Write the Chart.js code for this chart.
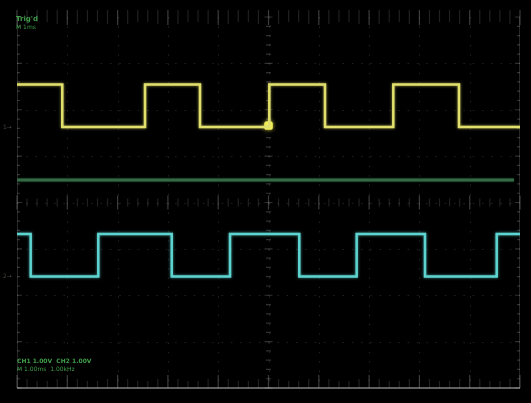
<!DOCTYPE html>
<html>
<head>
<meta charset="utf-8">
<script src="https://cdn.jsdelivr.net/npm/chart.js@4.4.0/dist/chart.umd.min.js"></script>
<style>
  html, body { margin: 0; padding: 0; background: #000; }
  canvas { display: block; }
</style>
</head>
<body>
<canvas id="scope" width="531" height="403"></canvas>
<script>
// Time axis in divisions (10 across), vertical axis in divisions (8 high)
const ch1Times  = [0, 0.90, 2.545, 3.638, 5.016, 6.123, 7.481, 8.787, 10];
const ch1Levels = [6.545, 5.628, 6.545, 5.628, 6.545, 5.628, 6.545, 5.628, 5.628];

const ch2Times  = [0, 0.272, 1.616, 3.076, 4.235, 5.612, 6.753, 8.111, 9.537, 10];
const ch2Levels = [3.321, 2.404, 3.321, 2.404, 3.321, 2.404, 3.321, 2.404, 3.321, 3.321];

const refTimes  = [0, 9.88];
const refLevels = [4.485, 4.485];

const triggerTimes  = [5.0];
const triggerLevels = [5.66];

const headerLines = ["Trig'd", "M 1ms"];
const footerLines = ["CH1 1.00V  CH2 1.00V", "M 1.00ms  1.00kHz"];
const markerLabels = ["1", "2"];
const markerLevels = [5.628, 2.404];

const toPoints = (xs, ys) => xs.map((x, i) => ({ x, y: ys[i] }));

// Graticule: dotted division lines plus tick rulers on the frame and centre axes
const graticule = {
  id: 'graticule',
  beforeDatasetsDraw(chart) {
    const { ctx, chartArea: a, scales: { x, y } } = chart;
    ctx.save();
    // dotted division lines
    ctx.strokeStyle = 'rgba(150,150,150,0.22)';
    ctx.lineWidth = 1;
    ctx.setLineDash([1.5, 7.8]);
    for (let i = 1; i < 10; i++) {
      const px = Math.round(x.getPixelForValue(i)) + 0.5;
      ctx.beginPath(); ctx.moveTo(px, a.top); ctx.lineTo(px, a.bottom); ctx.stroke();
    }
    for (let j = 1; j < 8; j++) {
      const py = Math.round(y.getPixelForValue(j)) + 0.5;
      ctx.beginPath(); ctx.moveTo(a.left, py); ctx.lineTo(a.right, py); ctx.stroke();
    }
    ctx.setLineDash([]);

    // side frame lines
    ctx.strokeStyle = 'rgba(150,150,150,0.25)';
    ctx.beginPath();
    ctx.moveTo(a.left + 0.5, a.top); ctx.lineTo(a.left + 0.5, a.bottom);
    ctx.moveTo(a.right - 0.5, a.top); ctx.lineTo(a.right - 0.5, a.bottom);
    ctx.stroke();

    // bottom ruler line
    ctx.strokeStyle = 'rgba(175,175,175,0.55)';
    ctx.lineWidth = 2;
    ctx.beginPath(); ctx.moveTo(a.left, a.bottom); ctx.lineTo(a.right, a.bottom); ctx.stroke();

    const cx = x.getPixelForValue(5);
    const cy = y.getPixelForValue(4);
    ctx.lineWidth = 1.2;

    // horizontal rulers: top, centre, bottom
    for (let k = 0; k <= 50; k++) {
      const px = x.getPixelForValue(k / 5);
      const major = k % 5 === 0;
      const half = major ? 0 : (k % 5 === 2 || k % 5 === 3 ? 1 : 2);
      ctx.strokeStyle = major ? 'rgba(200,200,200,0.3)' : 'rgba(180,180,180,0.18)';
      ctx.beginPath();
      ctx.moveTo(px, a.top - 7);
      ctx.lineTo(px, a.top + (major ? 8 : 3 + half * 2));
      ctx.stroke();
      ctx.beginPath();
      ctx.moveTo(px, a.bottom);
      ctx.lineTo(px, a.bottom - (major ? 13 : 5 + half * 2));
      ctx.stroke();
      ctx.beginPath();
      ctx.moveTo(px, cy - (major ? 7 : 4));
      ctx.lineTo(px, cy + (major ? 7 : 4));
      ctx.stroke();
    }

    // vertical rulers: left, centre, right
    ctx.strokeStyle = 'rgba(190,190,190,0.25)';
    for (let k = 0; k <= 40; k++) {
      const py = y.getPixelForValue(k / 5);
      const major = k % 5 === 0;
      ctx.beginPath();
      ctx.moveTo(cx - (major ? 4 : 2.5), py); ctx.lineTo(cx + (major ? 4 : 2.5), py);
      ctx.moveTo(a.left, py); ctx.lineTo(a.left + (major ? 5 : 3), py);
      ctx.moveTo(a.right, py); ctx.lineTo(a.right - (major ? 5 : 3), py);
      ctx.stroke();
    }
    ctx.restore();
  }
};

// Soft phosphor glow around each trace
const glow = {
  id: 'glow',
  beforeDatasetDraw(chart, args) {
    const ds = chart.data.datasets[args.index];
    chart.ctx.save();
    chart.ctx.shadowColor = ds.glowColor || 'transparent';
    chart.ctx.shadowBlur = ds.glowBlur || 0;
  },
  afterDatasetDraw(chart) {
    chart.ctx.restore();
  }
};

// On-screen readouts and channel ground markers
const readouts = {
  id: 'readouts',
  afterDraw(chart) {
    const { ctx, chartArea: a, scales: { y } } = chart;
    ctx.save();
    ctx.textBaseline = 'top';
    ctx.fillStyle = '#3f9e4a';
    ctx.font = 'bold 7px "DejaVu Sans"';
    ctx.fillText(headerLines[0], a.left - 1, 16);
    ctx.font = '6px "DejaVu Sans"';
    ctx.fillText(headerLines[1], a.left - 1, 24);
    ctx.font = 'bold 6px "DejaVu Sans"';
    ctx.fillText(footerLines[0], a.left, 358);
    ctx.font = '6px "DejaVu Sans"';
    ctx.fillText(footerLines[1], a.left, 366);

    ctx.textBaseline = 'middle';
    ctx.font = '6px "DejaVu Sans"';
    ctx.fillStyle = 'rgba(150,150,130,0.45)';
    markerLabels.forEach((t, i) => {
      ctx.fillText(t + '\u2192', 3, y.getPixelForValue(markerLevels[i]));
    });
    ctx.restore();
  }
};

new Chart(document.getElementById('scope'), {
  type: 'line',
  data: {
    datasets: [
      {
        label: 'REF',
        data: toPoints(refTimes, refLevels),
        borderColor: '#336a45',
        borderWidth: 3,
        pointRadius: 0,
        glowColor: 'rgba(51,106,69,0.6)',
        glowBlur: 2
      },
      {
        label: 'CH1',
        data: toPoints(ch1Times, ch1Levels),
        stepped: 'before',
        borderColor: '#e2e06c',
        borderWidth: 2.5,
        pointRadius: 0,
        glowColor: 'rgba(226,224,108,0.7)',
        glowBlur: 3
      },
      {
        label: 'CH2',
        data: toPoints(ch2Times, ch2Levels),
        stepped: 'before',
        borderColor: '#5ed4d0',
        borderWidth: 2.5,
        pointRadius: 0,
        glowColor: 'rgba(94,212,208,0.7)',
        glowBlur: 3
      },
      {
        label: 'Trigger',
        data: toPoints(triggerTimes, triggerLevels),
        showLine: false,
        pointStyle: 'rectRounded',
        pointRadius: 5,
        backgroundColor: '#f2ee58',
        borderColor: '#f2ee58',
        borderWidth: 0,
        glowColor: 'rgba(242,238,88,0.8)',
        glowBlur: 4
      }
    ]
  },
  options: {
    responsive: false,
    animation: false,
    devicePixelRatio: 1,
    layout: { padding: { left: 17, right: 11, top: 17, bottom: 15 } },
    plugins: {
      legend: { display: false },
      tooltip: { enabled: false }
    },
    scales: {
      x: { type: 'linear', min: 0, max: 10, display: false },
      y: { type: 'linear', min: 0, max: 8, display: false }
    }
  },
  plugins: [graticule, glow, readouts]
});
</script>
</body>
</html>
